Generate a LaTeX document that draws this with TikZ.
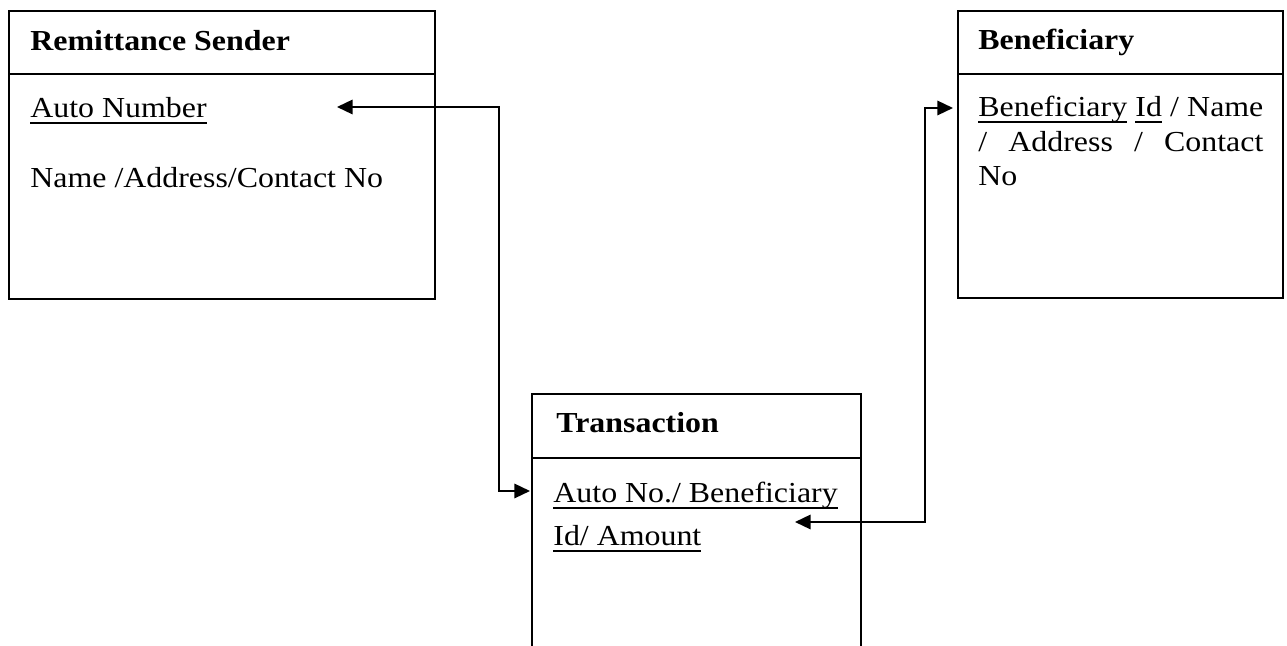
\documentclass[tikz,border=0pt]{standalone}
\usepackage{fontspec}
\setmainfont{Liberation Serif}[FakeStretch=1.1]
\usetikzlibrary{arrows.meta}

% underline drawn at a fixed depth below the baseline
\newcommand\keyul[1]{\setbox0=\hbox{#1}\rlap{\rule[-3.0pt]{\wd0}{0.8pt}}\box0\relax}

\tikzset{
  entbox/.style={draw, line width=0.9pt, rectangle, anchor=north west, inner sep=0pt},
  entarea/.style={rectangle, anchor=north west, inner sep=0pt},
  divider/.style={line width=0.9pt},
  txt/.style={anchor=base west, inner sep=0pt, font=\fontsize{14.5pt}{17pt}\selectfont},
  conn/.style={line width=1pt, {Triangle[length=7.8pt,width=7.2pt]}-{Triangle[length=7.8pt,width=7.2pt]}}
}

\begin{document}
\begin{tikzpicture}[x=0.5pt, y=-0.5pt]
  \useasboundingbox[fill=white] (0,0) rectangle (1287,646);

  % entity boxes
  \node[entbox, minimum width=213pt, minimum height=144pt] (snd) at (8,10) {};
  \node[entbox, minimum width=162.5pt, minimum height=143.5pt] (ben) at (957,10) {};
  \node[entarea, minimum width=164pt, minimum height=126pt] (trn) at (532,394) {};
  \draw[divider] (trn.south west) |- (trn.north east) -- (trn.south east);

  % header dividers
  \draw[divider] (snd.west |- 0,74) -- (snd.east |- 0,74);
  \draw[divider] (ben.west |- 0,74) -- (ben.east |- 0,74);
  \draw[divider] (trn.west |- 0,458) -- (trn.east |- 0,458);

  % Remittance Sender
  \node[txt] (sndT) at (30,51) {\bfseries Remittance Sender};
  \node[txt] (sndK) at (30,118) {\keyul{Auto Number}};
  \node[txt] (sndA) at (30,188) {Name /Address/Contact No};

  % Beneficiary
  \node[txt] (benT) at (978,50) {\bfseries Beneficiary};
  \node[txt] (benA1) at (978,117) {\makebox[142.5pt][s]{\keyul{Beneficiary} \keyul{Id} / Name}};
  \node[txt] (benA2) at (978,152) {\makebox[142.5pt][s]{/ Address / Contact}};
  \node[txt] (benA3) at (978,186) {No};

  % Transaction
  \node[txt] (trnT) at (556,433) {\bfseries Transaction};
  \node[txt] (trnK1) at (553,503) {\keyul{Auto No./ Beneficiary}};
  \node[txt] (trnK2) at (553,546) {\keyul{Id/ Amount}};

  % connector end points
  \coordinate (sndKey) at (337,107);
  \coordinate (trnIn) at (530,491);
  \coordinate (trnKey) at (795,522);
  \coordinate (benIn) at (953,108);

  % relationships
  \draw[conn] (sndKey) -- ++(162,0) |- (trnIn);
  \draw[conn] (trnKey) -- ++(130,0) |- (benIn);
\end{tikzpicture}
\end{document}
